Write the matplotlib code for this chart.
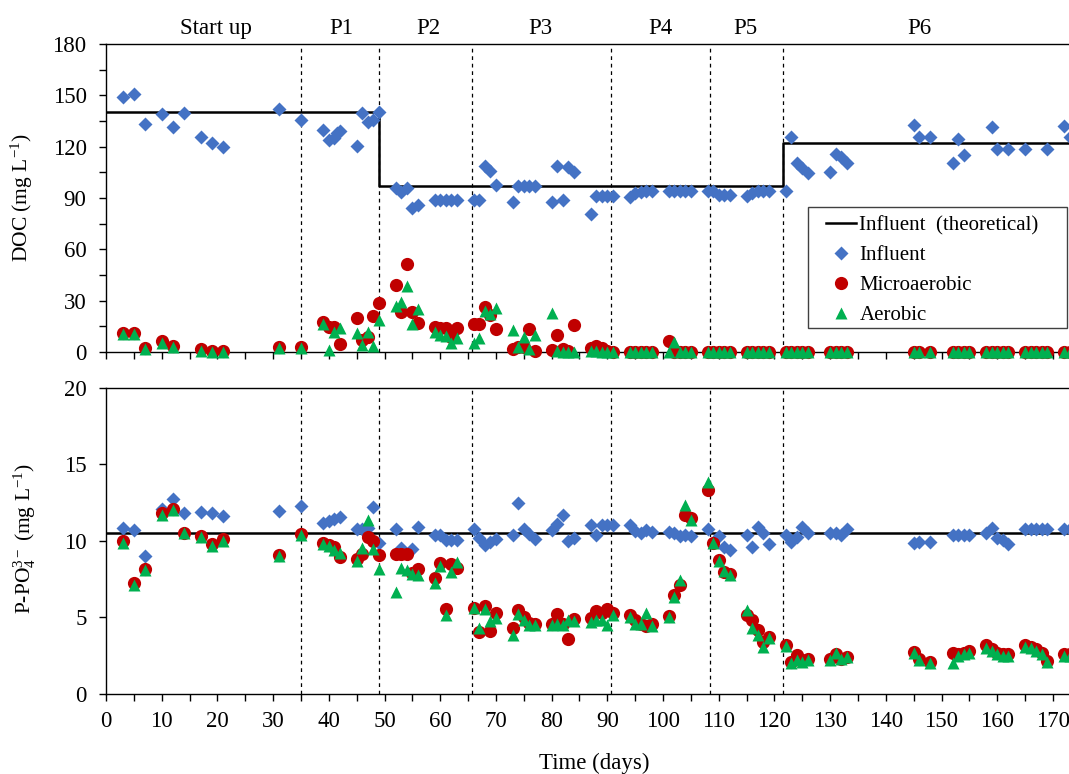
import matplotlib
matplotlib.use("Agg")
import matplotlib.pyplot as plt
from matplotlib.lines import Line2D
from matplotlib.patches import Rectangle
from matplotlib.ticker import MultipleLocator

plt.rcParams["font.family"] = ["Liberation Serif", "DejaVu Serif"]
plt.rcParams["mathtext.fontset"] = "custom"
plt.rcParams["mathtext.rm"] = "Liberation Serif"
plt.rcParams["mathtext.it"] = "Liberation Serif:italic"

# operating periods
phase_names = ["Start up", "P1", "P2", "P3", "P4", "P5", "P6"]
phase_label_x = [19.7, 42.2, 57.8, 77.9, 99.5, 114.7, 146.1]
phase_bounds = [35, 49, 65.7, 90.7, 108.4, 121.6]

# theoretical influent (step values)
theo_doc_x = [0, 49, 121.6, 175]
theo_doc = [140, 97, 122, 122]
theo_p_x = [0, 175]
theo_p = [10.5, 10.5]

# DOC - influent
doc_in_days = [3, 5, 7, 10, 12, 14, 17, 19, 21, 31, 35, 39, 40, 41, 41.5, 42, 45, 46, 47, 48, 49,
               52, 53, 54, 55, 56, 59, 60, 61, 62, 63,
               66, 67, 68, 69, 70, 73, 74, 75, 76, 77, 80, 81, 82, 83, 84, 87, 88, 89, 90, 91,
               94, 95, 96, 97, 98, 101, 102, 103, 104, 105, 108, 109, 110, 111, 112,
               115, 116, 117, 118, 119, 122,
               123, 124, 125, 126, 130, 131, 132, 133, 145, 146, 148, 152, 153, 154,
               159, 160, 162, 165, 169, 172, 173]
doc_in = [148.9, 150.8, 133.3, 138.9, 131.7, 139.5, 125.8, 122.3, 120, 142, 135.6, 130, 123.9, 124.9, 127.8, 129.2, 120.6, 139.5, 134.6, 135.6, 140.4,
          95.7, 93.7, 95.7, 84, 85.9, 88.8, 88.8, 88.8, 88.8, 88.8,
          88.8, 88.8, 108.7, 106, 97.6, 87.8, 97.2, 97.2, 97.2, 97.2, 87.8, 108.7, 88.8, 108.3, 105.4, 80.5, 91.2, 91.2, 91.2, 91.2,
          90.8, 92.7, 93.7, 94.3, 94.3, 94.3, 94.3, 94.3, 94.3, 94.3, 94.3, 94.3, 91.8, 91.8, 91.8,
          91, 92.7, 94.3, 94.3, 94.3, 94.3,
          125.5, 110.3, 107.3, 104.8, 105.4, 115.7, 114.1, 110.3, 132.7, 125.5, 125.5, 110.3, 124.3, 115.1,
          131.3, 118.5, 118.5, 118.5, 118.5, 132.1, 125.5]

# DOC - reactor effluents
doc_out_days = [3, 5, 7, 10, 12, 17, 19, 21, 31, 35,
                39, 40, 41, 42, 45, 46, 47, 48, 49,
                52, 53, 54, 55, 56, 59, 60, 61, 62, 63,
                66, 67, 68, 69, 70, 73, 74, 75, 76, 77, 80, 81, 82, 83, 84, 87, 88, 89, 90, 91,
                94, 95, 96, 97, 98, 101, 102, 103, 104, 105, 108,
                109, 110, 111, 112, 115, 116, 117, 118, 119,
                122, 123, 124, 125, 126, 130, 131, 132, 133, 145, 146, 148, 152, 153, 154, 155,
                158, 159, 160, 161, 162, 165, 166, 167, 168, 169, 172, 173]
doc_micro = [11, 11, 2.5, 6.5, 3.5, 1.5, 0.5, 0.5, 3, 3,
             17.5, 14.8, 14.5, 4.7, 19.7, 7, 9, 21.2, 28.4,
             39.2, 23.6, 51.4, 23.6, 17.1, 14.4, 14, 13.8, 9, 14,
             16.4, 16.4, 26.5, 21.6, 13.4, 1.5, 3, 3, 13.4, 0.5, 1, 10, 2, 0.5, 15.8, 2.5, 3.5, 2.5, 0.5, 0.3,
             0, 0, 0, 0, 0, 6.5, 0.3, 0, 0, 0, 0,
             0, 0, 0, 0, 0, 0, 0, 0, 0,
             0, 0, 0, 0, 0, 0, 0, 0, 0, 0, 0, 0, 0, 0, 0, 0,
             0, 0, 0, 0, 0, 0, 0, 0, 0, 0, 0, 0]
doc_aer = [10.5, 10.5, 1.5, 5.5, 3, 0.8, 0.2, 0.3, 2.5, 2.5,
           16.5, 1, 11.5, 13.8, 10.9, 4, 11.9, 3.5, 18.7,
           27, 29.4, 38.6, 16.4, 25.1, 11.9, 10, 9.5, 5, 8,
           5.5, 8, 24, 22, 25.9, 12.9, 3, 9, 2, 10, 22.6, 0.5, 0, 0, 0, 0.5, 0.5, 0.3, 0, 0,
           0, 0, 0, 0, 0, 0.3, 6, 0, 0, 0, 0,
           0, 0, 0, 0, 0, 0, 0, 0, 0,
           0, 0, 0, 0, 0, 0, 0, 0, 0, 0, 0, 0, 0, 0, 0, 0,
           0, 0, 0, 0, 0, 0, 0, 0, 0, 0, 0, 0]

# P-PO4 - influent
p_in_days = [3, 5, 7, 10, 12, 14, 17, 19, 21, 31, 35, 39, 40, 41, 42, 45, 46, 47, 48, 49,
             52, 53, 55, 56, 59, 60, 61, 62, 63,
             66, 67, 68, 69, 70, 73, 74, 75, 76, 77, 80, 81, 82, 83, 84, 87, 88, 89, 90, 91,
             94, 95, 96, 97, 98, 101, 102, 103, 104, 105, 108,
             110, 111, 112, 115, 116, 117, 118, 119,
             122, 123, 124, 125, 126, 130, 131, 132, 133, 145, 146, 148, 152, 153, 154, 155,
             158, 159, 160, 161, 162, 165, 166, 167, 168, 169, 172, 173]
p_in = [10.87, 10.72, 9.04, 12.1, 12.75, 11.85, 11.92, 11.81, 11.63, 11.96, 12.29, 11.2, 11.33, 11.44, 11.55, 10.78, 10.78, 10.87, 12.2, 9.85,
        10.76, 9.56, 9.48, 10.94, 10.39, 10.39, 10.07, 10.07, 10.07,
        10.76, 10.17, 9.74, 9.95, 10.11, 10.39, 12.46, 10.76, 10.44, 10.11, 10.72, 11.11, 11.7, 10.02, 10.22, 11.05, 10.39, 11.05, 11.05, 11.05,
        11.05, 10.68, 10.5, 10.72, 10.61, 10.61, 10.5, 10.33, 10.39, 10.33, 10.76,
        10.33, 9.63, 9.41, 10.39, 9.63, 10.89, 10.54, 9.8,
        10.39, 9.95, 10.28, 10.94, 10.5, 10.5, 10.5, 10.39, 10.76, 9.85, 9.95, 9.95, 10.39, 10.39, 10.39, 10.39,
        10.5, 10.83, 10.17, 10.07, 9.78, 10.76, 10.76, 10.76, 10.76, 10.76, 10.76, 10.76]

# P-PO4 - reactor effluents
p_out_days = [3, 5, 7, 10, 12, 14, 17, 19, 21, 31, 35,
              39, 40, 41, 42, 45, 46, 47, 48, 49,
              52, 53, 54, 55, 56, 59, 60, 61, 62, 63,
              66, 67, 68, 69, 70, 73, 74, 75, 76, 77, 80, 81, 82, 83, 84, 87, 88, 89, 90, 91,
              94, 95, 96, 97, 98, 101, 102, 103, 104, 105, 108,
              109, 110, 111, 112, 115, 116, 117, 118, 119,
              122, 123, 124, 125, 126, 130, 131, 132, 133, 145, 146, 148, 152, 153, 154, 155,
              158, 159, 160, 161, 162, 165, 166, 167, 168, 169, 172, 173]
p_micro = [10.0, 7.23, 8.17, 11.8, 12.07, 10.54, 10.33, 9.78, 10.1, 9.08, 10.44,
           9.85, 9.75, 9.6, 8.98, 8.8, 9.15, 10.28, 10.0, 9.1,
           9.15, 9.15, 9.15, 7.9, 8.15, 7.56, 8.58, 5.53, 8.47, 8.25,
           5.6, 4.07, 5.75, 4.14, 5.32, 4.29, 5.49, 5.05, 4.62, 4.58, 4.58, 5.23, 4.58, 3.57, 4.88, 4.94, 5.45, 5.27, 5.56, 5.27,
           5.16, 4.84, 4.6, 4.44, 4.58, 5.1, 6.47, 7.12, 11.7, 11.48, 13.33,
           9.89, 8.76, 7.99, 7.84, 5.16, 4.84, 4.18, 3.42, 3.7,
           3.2, 2.11, 2.55, 2.2, 2.27, 2.27, 2.6, 2.27, 2.44, 2.76, 2.27, 2.1, 2.66, 2.6, 2.66, 2.8,
           3.2, 2.92, 2.7, 2.6, 2.6, 3.2, 3.1, 2.92, 2.7, 2.18, 2.6, 2.6]
p_aer = [9.9, 7.1, 8.1, 11.7, 12.0, 10.5, 10.25, 9.7, 10.0, 9.0, 10.4,
         9.8, 9.7, 9.4, 9.24, 8.7, 9.52, 11.37, 9.5, 8.2,
         6.69, 8.21, 8.1, 7.84, 7.78, 7.23, 8.39, 5.16, 8.0, 8.6,
         5.64, 4.29, 5.53, 4.79, 4.94, 3.86, 5.2, 4.86, 4.5, 4.5, 4.5, 4.58, 4.5, 4.84, 4.79, 4.73, 4.84, 4.84, 4.5, 5.16,
         5.05, 4.58, 4.6, 5.27, 4.45, 5.05, 6.36, 7.45, 12.35, 11.4, 13.88,
         9.89, 8.7, 8.05, 7.78, 5.49, 4.33, 3.86, 3.09, 3.65,
         3.15, 2.0, 2.2, 2.1, 2.2, 2.2, 2.7, 2.3, 2.4, 2.7, 2.2, 2.0, 2.0, 2.5, 2.6, 2.7,
         3.0, 2.8, 2.6, 2.5, 2.5, 3.1, 3.0, 2.8, 2.6, 2.1, 2.5, 2.5]

blue = "#4472C4"
red = "#C00000"
green = "#00B050"
fs = 16.5

fig = plt.figure(figsize=(10.69, 7.74), dpi=100)
ax1 = fig.add_axes([0.0992, 0.5452, 0.9118, 0.398])
ax2 = fig.add_axes([0.0992, 0.1034, 0.9118, 0.3953])


def style_axis(ax, ymax, ystep, yminor):
    ax.set_xlim(0, 175)
    ax.set_ylim(0, ymax)
    ax.xaxis.set_major_locator(MultipleLocator(10))
    ax.xaxis.set_minor_locator(MultipleLocator(5))
    ax.yaxis.set_major_locator(MultipleLocator(ystep))
    if yminor:
        ax.yaxis.set_minor_locator(MultipleLocator(yminor))
    ax.tick_params(which="both", direction="out", length=5, width=1, labelsize=fs)
    ax.tick_params(axis="y", pad=9)
    ax.tick_params(axis="x", pad=7)
    ax.tick_params(which="both", top=False, right=False)
    ax.spines["right"].set_visible(False)
    for s in ["left", "bottom", "top"]:
        ax.spines[s].set_linewidth(1)
    for b in phase_bounds:
        ax.axvline(b, color="black", lw=0.9, ls=(0, (3, 3)), zorder=1)


# DOC panel
style_axis(ax1, 180, 30, 15)
ax1.tick_params(axis="x", labelbottom=False)
ax1.step(theo_doc_x, theo_doc, where="post", color="black", lw=1.8, zorder=2)
ax1.plot(doc_in_days, doc_in, "D", color=blue, ms=6.8, mec="none", zorder=3, clip_on=False)
ax1.plot(doc_out_days, doc_micro, "o", color=red, ms=9.5, mec="none", zorder=4, clip_on=False)
ax1.plot(doc_out_days, doc_aer, "^", color=green, ms=9, mec="none", zorder=5, clip_on=False)

for name, xp in zip(phase_names, phase_label_x):
    ax1.text(xp, 1.05, name, transform=ax1.get_xaxis_transform(),
             ha="center", va="center", fontsize=fs)

# legend with a square frame
handles = [
    Line2D([], [], color="black", lw=1.8),
    Line2D([], [], marker="D", ls="none", color=blue, ms=6.8, mec="none"),
    Line2D([], [], marker="o", ls="none", color=red, ms=9.5, mec="none"),
    Line2D([], [], marker="^", ls="none", color=green, ms=9, mec="none"),
]
labels = ["Influent  (theoretical)", "Influent", "Microaerobic", "Aerobic"]
ax1.legend(handles, labels, loc="upper left", bbox_to_anchor=(0.739, 0.443),
           frameon=False, fontsize=15, borderpad=0, borderaxespad=0,
           handlelength=1.44, handletextpad=0.15, labelspacing=0.5)
ax1.add_patch(Rectangle((0.720, 0.077), 0.2657, 0.393, transform=ax1.transAxes,
                        facecolor="white", edgecolor="#404040", lw=1, zorder=6))
ax1.get_legend().set_zorder(7)

# P-PO4 panel
style_axis(ax2, 20, 5, None)
ax2.plot(theo_p_x, theo_p, color="black", lw=1.8, zorder=2)
ax2.plot(p_in_days, p_in, "D", color=blue, ms=6.8, mec="none", zorder=3, clip_on=False)
ax2.plot(p_out_days, p_micro, "o", color=red, ms=9.5, mec="none", zorder=4, clip_on=False)
ax2.plot(p_out_days, p_aer, "^", color=green, ms=9, mec="none", zorder=5, clip_on=False)

fig.text(22 / 1069, 1 - 198 / 774, "DOC (mg L$^{\\mathregular{-1}}$)", rotation=90,
         ha="center", va="center", fontsize=15.5)
fig.text(25 / 1069, 1 - 538 / 774,
         "P-PO$_{\\mathregular{4}}^{\\mathregular{3-}}$ (mg L$^{\\mathregular{-1}}$)",
         rotation=90, ha="center", va="center", fontsize=15.5)
fig.text(594 / 1069, 1 - 763 / 774, "Time (days)", ha="center", va="center", fontsize=fs)

fig.savefig("out.png", dpi=100)
